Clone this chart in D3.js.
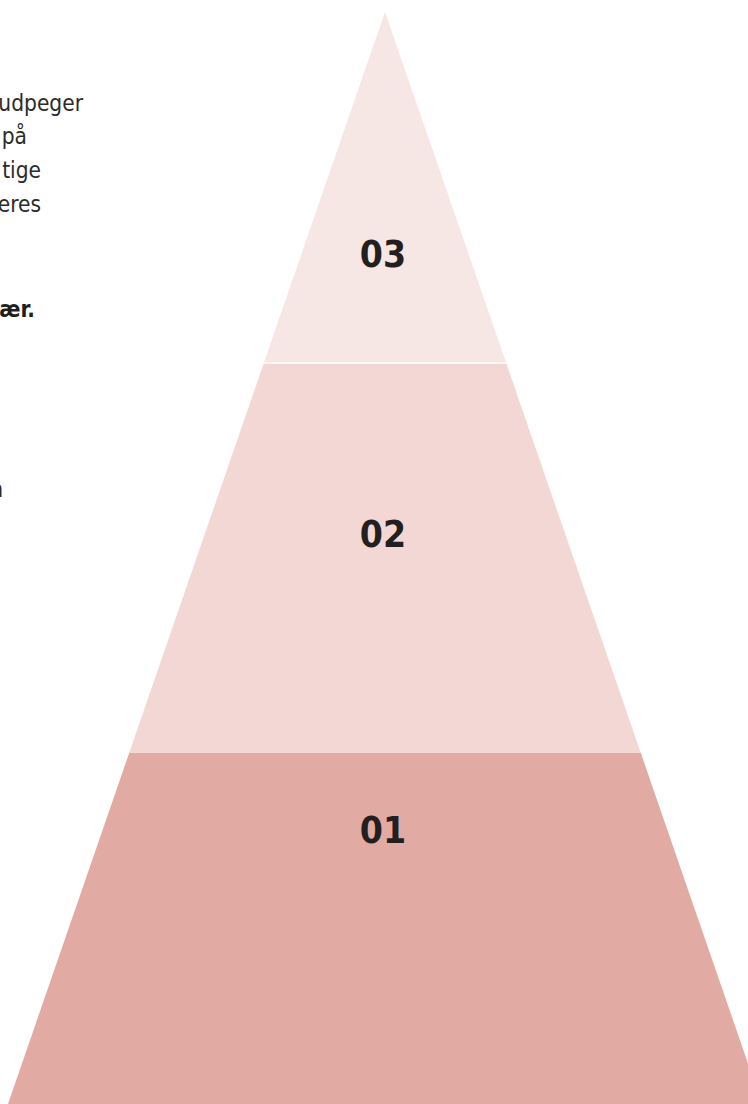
<!DOCTYPE html>
<html lang="da">
<head>
<meta charset="utf-8">
<style>
  body { margin: 0; background: #fff; overflow: hidden; }
  svg { display: block; font-family: 'DejaVu Sans Condensed', 'DejaVu Sans', sans-serif; }
  .intro { font-size: 22.5px; fill: #2b2b2b; }
  .intro.bold { font-weight: bold; fill: #1f1f1f; }
  .tier-label { font-size: 37px; font-weight: bold; fill: #231f20; }
</style>
</head>
<body>
<div id="chart"></div>
<script src="https://d3js.org/d3.v7.min.js"></script>
<script>
// tiers from the base up, heights
var tiers = ["01", "02", "03"];
var tierHeights = [351, 390, 351];
var tierColors = ["#e1aaa3", "#f2d7d4", "#f6e6e4"];
// where inside each tier the number sits (0 = bottom, 1 = top)
var labelAt = [0.78, 0.56, 0.31];

// fragments of the text block cut off at the left edge
var introLines = ["udpeger", "på", "tige", "eres", "sær.", "n"];
var introEnds = [83, 27, 41, 41, 35, 3];
var introBase = [111, 144, 178, 212, 317, 497];
var introBold = [false, false, false, false, true, false];

var width = 748, height = 1104;
var apexX = 385, apexY = 12, baseHalf = 377;

var svg = d3.select("#chart").append("svg")
    .attr("width", width)
    .attr("height", height);

var total = d3.sum(tierHeights);
var y = d3.scaleLinear().domain([0, total]).range([height, apexY]);
var half = d3.scaleLinear().domain([0, total]).range([baseHalf, 0]);

var cum = d3.cumsum(tierHeights);
var data = tiers.map(function(t, i) {
  return { name: t, lo: i ? cum[i - 1] : 0, hi: cum[i], color: tierColors[i], at: labelAt[i] };
});

svg.selectAll("path.tier")
  .data(data)
  .enter()
  .append("path")
    .attr("class", "tier")
    .attr("fill", function(d) { return d.color; })
    .attr("d", function(d) {
      var pts = [
        [apexX - half(d.lo), y(d.lo)],
        [apexX + half(d.lo), y(d.lo)],
        [apexX + half(d.hi), y(d.hi)],
        [apexX - half(d.hi), y(d.hi)]
      ];
      return d3.line()(pts) + "Z";
    });

// thin white seam under the top tier
var seam = cum[1];
svg.append("line")
  .attr("x1", apexX - half(seam) - 2)
  .attr("x2", apexX + half(seam) + 2)
  .attr("y1", y(seam))
  .attr("y2", y(seam))
  .attr("stroke", "#fff")
  .attr("stroke-width", 1.5);

svg.selectAll("text.tier-label")
  .data(data)
  .enter()
  .append("text")
    .attr("class", "tier-label")
    .attr("x", apexX - 2)
    .attr("y", function(d) { return y(d.lo + (d.hi - d.lo) * d.at); })
    .attr("text-anchor", "middle")
    .attr("dominant-baseline", "central")
    .text(function(d) { return d.name; });

svg.selectAll("text.intro")
  .data(introLines)
  .enter()
  .append("text")
    .attr("class", function(d, i) { return introBold[i] ? "intro bold" : "intro"; })
    .attr("x", function(d, i) { return introEnds[i]; })
    .attr("y", function(d, i) { return introBase[i]; })
    .attr("text-anchor", "end")
    .text(function(d) { return d; });
</script>
</body>
</html>
